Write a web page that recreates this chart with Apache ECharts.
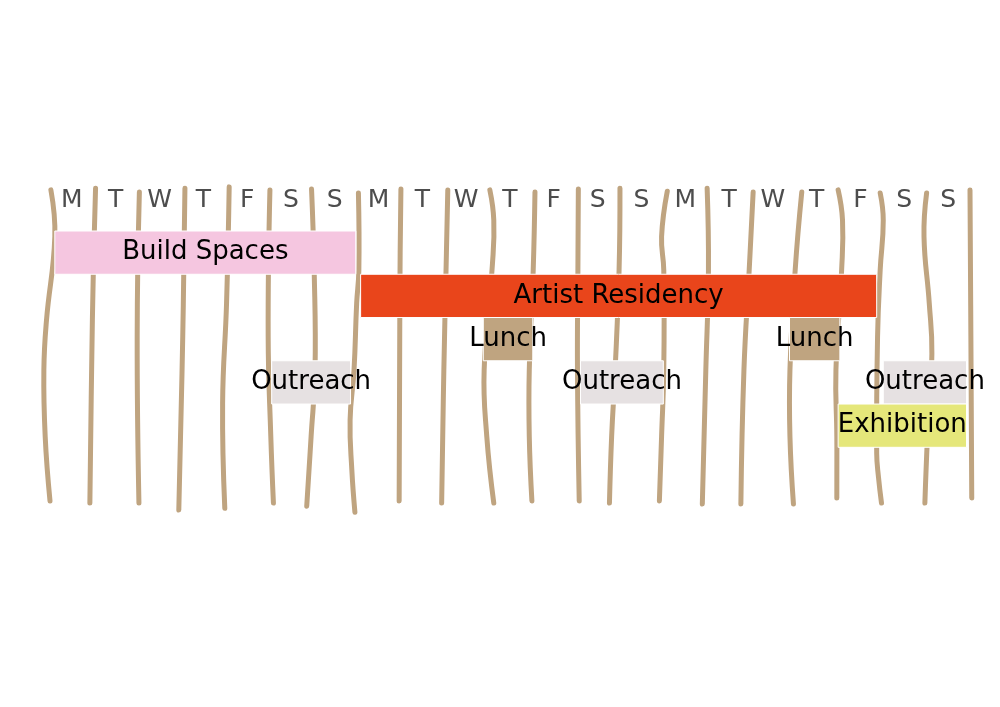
<!DOCTYPE html>
<html>
<head>
<meta charset="utf-8">
<script src="https://cdn.jsdelivr.net/npm/echarts@6/dist/echarts.min.js"></script>
<style>html,body{margin:0;padding:0;background:#fff}#c{width:1000px;height:707px}</style>
</head>
<body>
<div id="c"></div>
<script>
// ---- data ----
var dayLabels = ['M','T','W','T','F','S','S','M','T','W','T','F','S','S','M','T','W','T','F','S','S'];
var dayIndex = dayLabels.map(function (d, i) { return String(i); });

var taskNames = ['Build Spaces','Artist Residency','Lunch','Lunch','Outreach','Outreach','Outreach','Exhibition'];
var taskStart = [0.11, 7.09, 9.89, 16.88, 5.06, 12.11, 19.02, 17.99];
var taskEnd   = [6.98, 18.87, 11.02, 18.03, 6.86, 14.0, 20.92, 20.92];
var taskRow   = [0, 1, 2, 2, 3, 3, 3, 4];

// hand-drawn day divider sticks: [day, row] points
var stick0  = [[0.02,-0.95],[0.11,0.13],[-0.08,2.06],[-0.14,3.21],[-0.11,4.75],[0,6.24]];
var stick1  = [[1.04,-0.99],[0.99,0.90],[0.95,3.21],[0.91,6.29]];
var stick2  = [[2.04,-0.90],[1.99,2.44],[2.03,6.29]];
var stick3  = [[3.08,-0.99],[3.03,2.44],[2.94,6.45]];
var stick4  = [[4.09,-1.02],[4.03,1.67],[3.94,3.98],[3.99,6.41]];
var stick5  = [[5.02,-0.95],[4.98,2.44],[5.04,4.75],[5.10,6.29]];
var stick6  = [[5.97,-0.97],[6.03,0.90],[6.05,3.21],[5.96,4.75],[5.86,6.36]];
var stick7  = [[7.04,-0.88],[7.05,0.90],[7.00,1.67],[6.94,3.21],[6.85,4.37],[6.89,5.53],[6.96,6.50]];
var stick8  = [[8.01,-0.97],[7.99,0.90],[7.97,6.24]];
var stick9  = [[9.08,-0.95],[9.04,0.90],[8.99,3.21],[8.94,6.29]];
var stick10 = [[10.04,-0.95],[10.13,-0.25],[10.10,0.75],[9.91,3.21],[9.97,4.75],[10.13,6.29]];
var stick11 = [[11.07,-0.90],[11.03,0.90],[10.94,3.21],[10.94,4.75],[11.00,6.24]];
var stick12 = [[12.06,-0.97],[12.05,0.90],[12.04,3.21],[12.08,6.24]];
var stick13 = [[13.01,-0.99],[12.99,0.90],[12.90,3.21],[12.82,4.75],[12.77,6.29]];
var stick14 = [[14.09,-0.92],[13.96,0.13],[14.01,0.90],[14.01,3.21],[13.96,4.75],[13.91,6.24]];
var stick15 = [[15.00,-0.99],[15.03,0.90],[14.97,3.21],[14.89,6.31]];
var stick16 = [[16.05,-0.90],[15.96,0.90],[15.84,3.21],[15.77,6.31]];
var stick17 = [[17.16,-0.90],[17.01,0.90],[16.89,3.21],[16.89,4.75],[16.97,6.31]];
var stick18 = [[17.99,-0.95],[18.09,-0.25],[18.07,0.90],[17.94,3.21],[17.96,4.75],[17.96,6.17]];
var stick19 = [[18.95,-0.88],[19.02,-0.25],[18.95,0.90],[18.89,2.44],[18.87,5.14],[18.91,5.68],[18.98,6.29]];
var stick20 = [[20.01,-0.88],[19.95,0.13],[20.07,1.67],[20.13,2.83],[20.03,4.75],[19.97,6.29]];
var stick21 = [[21.00,-0.95],[21.02,2.44],[21.04,6.17]];
var sticks = [stick0,stick1,stick2,stick3,stick4,stick5,stick6,stick7,stick8,stick9,stick10,
              stick11,stick12,stick13,stick14,stick15,stick16,stick17,stick18,stick19,stick20,stick21];

// ---- styles ----
var palette = {
  'Build Spaces': '#f5c6e0',
  'Artist Residency': '#e9451b',
  'Lunch': '#bfa480',
  'Outreach': '#e6e1e2',
  'Exhibition': '#e5e77a'
};
var stickColor = '#bfa480';
var FONT = 'DejaVu Sans';

var chart = echarts.init(document.getElementById('c'));

var series = [];

// sticks: one custom series, each item is one stick; points mapped through the axes
series.push({
  type: 'custom',
  z: 1,
  clip: false,
  silent: true,
  data: sticks.map(function (s, i) { return [s[0][0], s[0][1], i]; }),
  encode: { x: 0, y: 1 },
  renderItem: function (params, api) {
    var pts = sticks[params.dataIndex].map(function (p) { return api.coord(p); });
    return {
      type: 'polyline',
      shape: { points: pts, smooth: 0.45 },
      style: { stroke: stickColor, lineWidth: 5, lineCap: 'round', lineJoin: 'round', fill: null }
    };
  }
});

series.push({
  type: 'custom',
  z: 5,
  clip: false,
  data: taskNames.map(function (n, i) { return [taskStart[i], taskEnd[i], taskRow[i], n]; }),
  encode: { x: [0, 1], y: 2 },
  renderItem: function (params, api) {
    var s = api.value(0), e = api.value(1), r = api.value(2);
    var name = taskNames[params.dataIndex];
    var p0 = api.coord([s, r]);
    var p1 = api.coord([e, r + 1]);
    var x = p0[0], y = Math.min(p0[1], p1[1]);
    var w = p1[0] - p0[0], h = Math.abs(p1[1] - p0[1]);
    return {
      type: 'group',
      children: [
        {
          type: 'rect',
          shape: { x: x, y: y, width: w, height: h },
          style: { fill: palette[name], stroke: '#ffffff', lineWidth: 1 }
        },
        {
          type: 'text',
          z2: 10,
          style: {
            x: x + w / 2, y: y + h / 2,
            text: name,
            align: 'center', verticalAlign: 'middle',
            fill: '#000000',
            font: '26px "' + FONT + '"'
          }
        }
      ]
    };
  }
});

chart.setOption({
  animation: false,
  backgroundColor: '#ffffff',
  grid: { left: 50, right: 30, top: 187.74, height: 346.08, containLabel: false },
  xAxis: [
    { type: 'value', min: 0, max: 21, show: false },
    {
      type: 'category', position: 'top', data: dayIndex, boundaryGap: true,
      axisLine: { show: false }, axisTick: { show: false }, splitLine: { show: false },
      axisLabel: {
        inside: true, interval: 0, margin: 13, verticalAlign: 'middle',
        color: '#4d4d4d', fontSize: 25, fontFamily: FONT,
        formatter: function (v, i) { return dayLabels[i]; }
      }
    }
  ],
  yAxis: { type: 'value', min: -1, max: 7, inverse: true, show: false },
  series: series
});
</script>
</body>
</html>
